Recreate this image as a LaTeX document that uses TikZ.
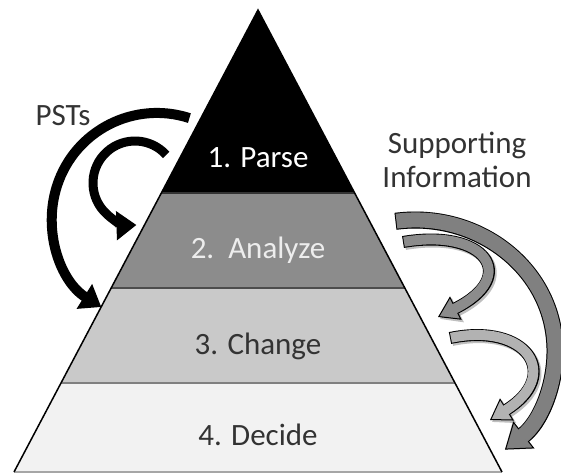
\documentclass[tikz,border=0pt]{standalone}
\usepackage{fontspec}
\setmainfont{Carlito}
\usetikzlibrary{calc,arrows.meta}

\definecolor{analyzefill}{HTML}{8C8C8C}
\definecolor{changefill}{HTML}{C9C9C9}
\definecolor{decidefill}{HTML}{F2F2F2}
\definecolor{labeltext}{HTML}{333333}

% outlined block arrow: fill, band width, tip length, tip width, path
\newcommand{\infoarrow}[5]{%
  \draw[black, opacity=0.25, line width=#2pt+2pt, shift={(2,2)},
        -{Triangle[length=#3pt, width=#4pt]}] #5;
  \draw[black, line width=#2pt+2pt,
        -{Triangle[length=#3pt, width=#4pt, fill=#1, line width=1pt]}] #5;
  \draw[#1, line width=#2pt, shorten <=1pt, shorten >=#3pt-2pt] #5;
}

\begin{document}
\begin{tikzpicture}[x=1pt, y=-1pt,
    every node/.style={font=\fontsize{31}{34}\selectfont, inner sep=0pt},
    pstarrow/.style={line width=10pt, -{Triangle[length=20pt, width=28pt]}},
    sepline/.style={line width=2pt}]
    \useasboundingbox (0,0) rectangle (561,474);

    % Define coordinates
    \coordinate (A) at (258,10);
    \coordinate (BL) at (14,472);
    \coordinate (BR) at (502,472);
    \coordinate (L1) at ($(A)!0.396!(BL)$);
    \coordinate (R1) at ($(A)!0.396!(BR)$);
    \coordinate (L2) at ($(A)!0.602!(BL)$);
    \coordinate (R2) at ($(A)!0.602!(BR)$);
    \coordinate (L3) at ($(A)!0.807!(BL)$);
    \coordinate (R3) at ($(A)!0.807!(BR)$);

    % Fill the four levels
    \fill[decidefill] (L3) -- (BL) -- (BR) -- (R3) -- cycle;
    \fill[changefill] (L2) -- (L3) -- (R3) -- (R2) -- cycle;
    \fill[analyzefill] (L1) -- (L2) -- (R2) -- (R1) -- cycle;
    \fill[black] (A) -- (L1) -- (R1) -- cycle;

    % Lines between the levels
    \draw[sepline, black!80] (L1) -- (R1);
    \draw[sepline, black!70] (L2) -- (R2);
    \draw[sepline, line width=2.5pt, black!50] (L3) -- (R3);
    \draw[sepline, black!35] (BL) -- (BR);

    % Sides of the pyramid
    \draw[line width=1.5pt] (BL) -- (A) -- (BR);

    % Level labels
    \node[anchor=base, white] (parse) at (258,167) {1. Parse};
    \node[anchor=base, black!7] (analyze) at (258,258) {2.\ \ Analyze};
    \node[anchor=base, labeltext] (change) at (258,354) {3. Change};
    \node[anchor=base, labeltext] (decide) at (258,445) {4. Decide};

    % Side labels
    \node[anchor=base, labeltext] (psts) at (63,125) {PSTs};
    \node[anchor=base, labeltext, align=center] (support) at (457,187)
        {Supporting\\Information};

    % PST arrows on the left
    \coordinate (pstout) at (189.4,118.1);
    \coordinate (pstin) at (166.2,154.9);
    \draw[pstarrow] (pstout) arc[start angle=-72, end angle=-238, radius=105];
    \draw[pstarrow, line width=9pt] (pstin) arc[start angle=-42, end angle=-272, radius=42];

    % Supporting information arrows on the right
    \coordinate (infoout) at (395.5,221.3);
    \infoarrow{black!50}{15}{24}{34}{(infoout) arc[start angle=-98, end angle=50, x radius=140, y radius=130]}
    \infoarrow{black!45}{10}{20}{26}{(403,242) .. controls (485,228) and (520,276) .. (438,317)}
    \infoarrow{black!30}{10}{20}{26}{(450,338) .. controls (527,322) and (562,375) .. (490,420)}
\end{tikzpicture}
\end{document}
